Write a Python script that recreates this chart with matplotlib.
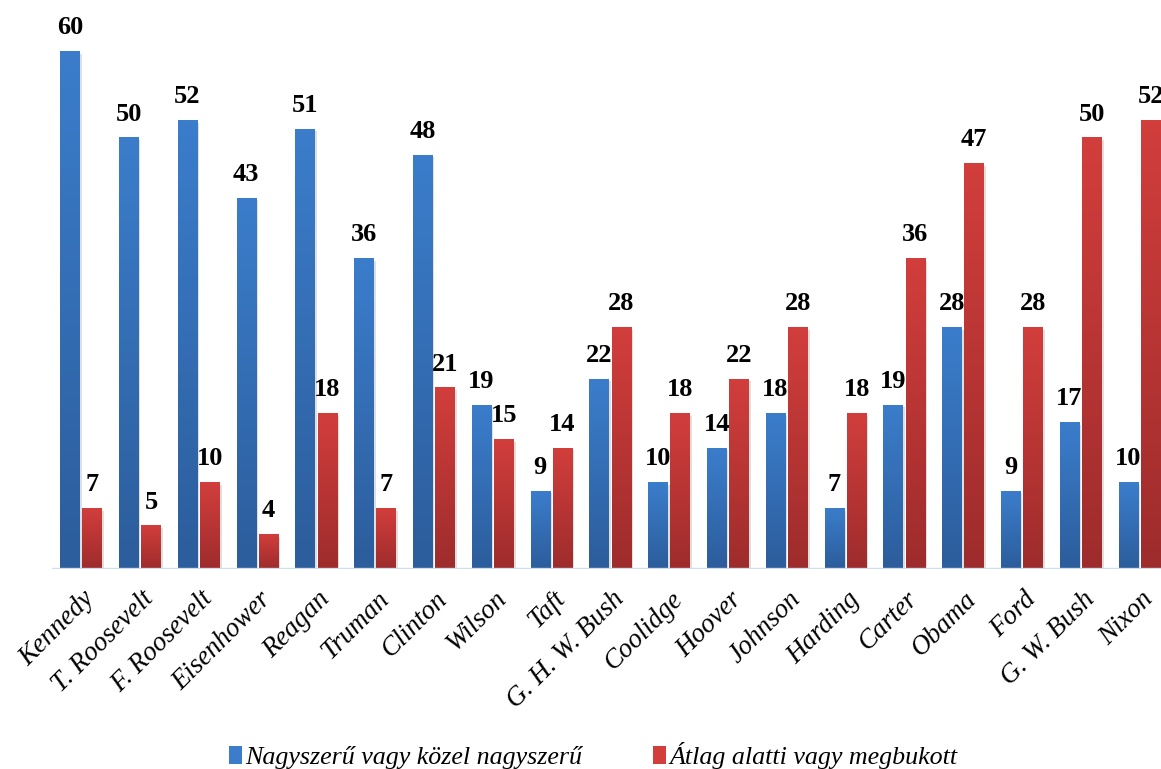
import numpy as np
import matplotlib
matplotlib.use("Agg")
import matplotlib.pyplot as plt
from matplotlib.colors import to_rgb
from matplotlib.patches import Patch
from matplotlib.transforms import ScaledTranslation
import matplotlib.patheffects as pe

presidents = ["Kennedy", "T. Roosevelt", "F. Roosevelt", "Eisenhower", "Reagan",
              "Truman", "Clinton", "Wilson", "Taft", "G. H. W. Bush", "Coolidge",
              "Hoover", "Johnson", "Harding", "Carter", "Obama", "Ford",
              "G. W. Bush", "Nixon"]
great = [60, 50, 52, 43, 51, 36, 48, 19, 9, 22, 10, 14, 18, 7, 19, 28, 9, 17, 10]
failed = [7, 5, 10, 4, 18, 7, 21, 15, 14, 28, 18, 22, 28, 18, 36, 47, 28, 50, 52]
series_names = ["Nagyszerű vagy közel nagyszerű", "Átlag alatti vagy megbukott"]

blue_top, blue_bot = "#3b7dcb", "#2c5d9c"
red_top, red_bot = "#d13e3c", "#9e2c2c"

serif = ["Liberation Serif", "DejaVu Serif"]

fig = plt.figure(figsize=(11.61, 7.69), dpi=100)
ax = fig.add_axes([51.6 / 1161, 200 / 769, 1117.2 / 1161, 569 / 769])

x = np.arange(len(presidents))
width = 0.33
offset = 0.19


def gradient_bars(xpos, values, top, bot):
    bars = ax.bar(xpos, values, width, color=top, zorder=2,
                  path_effects=[pe.SimplePatchShadow(offset=(1.5, -1.5),
                                                     shadow_rgbFace="0.5",
                                                     alpha=0.25),
                                pe.Normal()])
    t, b = np.array(to_rgb(top)), np.array(to_rgb(bot))
    ramp = np.linspace(0, 1, 64)[:, None, None]
    img = t * (1 - ramp) + b * ramp
    for rect in bars:
        x0 = rect.get_x()
        h = rect.get_height()
        ax.imshow(img, extent=(x0, x0 + rect.get_width(), 0, h),
                  aspect="auto", interpolation="bilinear", zorder=3)
    return bars


gradient_bars(x - offset, great, blue_top, blue_bot)
gradient_bars(x + offset, failed, red_top, red_bot)

for xi, g, f in zip(x, great, failed):
    for xp, v in ((xi - offset, g), (xi + offset, f)):
        ax.annotate(str(v), (xp, v), xytext=(0, 12.5), textcoords="offset points",
                    ha="center", va="baseline", fontsize=19, fontweight="bold",
                    family=serif, color="black")

ax.axhline(0, color="#cfdef0", lw=2.4, zorder=4)

ax.set_xlim(-0.5, 18.5)
ax.set_ylim(0, 66)
for s in ax.spines.values():
    s.set_visible(False)
ax.set_yticks([])
ax.set_xticks(x)
ax.set_xticklabels(presidents, rotation=45, ha="right", va="center",
                   rotation_mode="anchor", fontsize=19.5, style="italic",
                   family=serif)
ax.tick_params(axis="x", length=0, pad=19)
shift = ScaledTranslation(10 / 100, 0, fig.dpi_scale_trans)
for lbl in ax.get_xticklabels():
    lbl.set_transform(lbl.get_transform() + shift)

handles = [Patch(facecolor=blue_top), Patch(facecolor=red_top)]
fig.legend(handles, series_names, loc="center", bbox_to_anchor=(0.511, 0.017),
           ncol=2, frameon=False, prop={"family": serif, "style": "italic",
                                        "size": 18.7},
           handlelength=0.5, handleheight=0.7, handletextpad=0.15,
           columnspacing=2.7)

fig.savefig("out.png", dpi=100, facecolor="white")
